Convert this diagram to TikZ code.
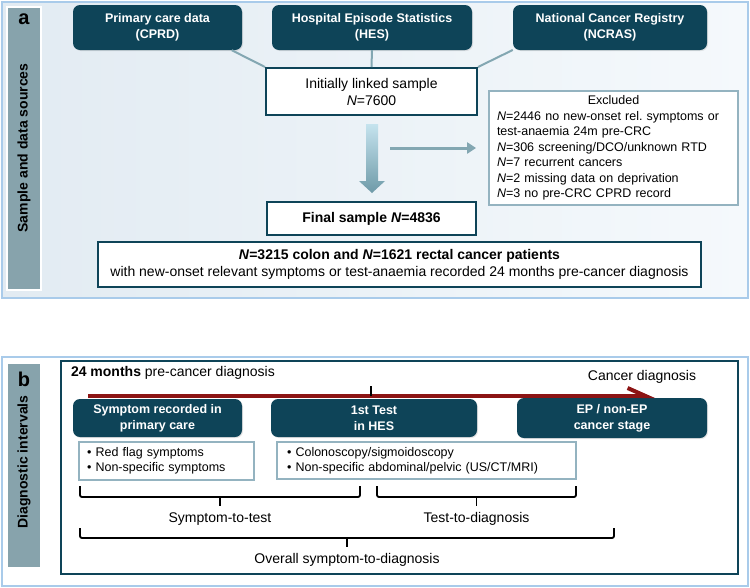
\documentclass[tikz,border=0pt]{standalone}
\usepackage{fontspec}
\setmainfont{Liberation Sans}
\usepackage{xcolor}
\usetikzlibrary{arrows.meta,positioning,calc,shadows}

\definecolor{darkteal}{HTML}{0E4458}
\definecolor{sidegray}{HTML}{87A3AC}
\definecolor{panelblue}{HTML}{A9CBEA}
\definecolor{lightteal}{HTML}{94B3C0}
\definecolor{linkteal}{HTML}{83A7B2}
\definecolor{arrowtop}{HTML}{C5E3EE}
\definecolor{arrowbot}{HTML}{6E9AA8}
\definecolor{timered}{HTML}{8C1414}
\definecolor{bgleft}{HTML}{E2EBF2}
\definecolor{bgright}{HTML}{F5F9FC}

\begin{document}
\begin{tikzpicture}[x=1pt,y=-1pt]
            \tikzstyle{source} = [fill=darkteal, text=white, rounded corners=7pt, align=center, font=\fontsize{12.5}{16}\selectfont\bfseries, drop shadow={opacity=0.2, shadow xshift=1pt, shadow yshift=-1pt}]
            \tikzstyle{sample} = [draw=darkteal, line width=2pt, fill=white, align=center, font=\fontsize{14}{17}\selectfont]
            \tikzstyle{note} = [draw=lightteal, line width=1.8pt, fill=white, align=left, font=\fontsize{12.5}{15.5}\selectfont]
            \tikzstyle{link} = [draw=linkteal, line width=2pt]
            \tikzstyle{brace} = [draw=black, line width=1.8pt, rounded corners=2pt]
            \tikzstyle{side} = [fill=sidegray, draw=white, line width=2pt]
            \tikzstyle{plain} = [font=\fontsize{14}{17}\selectfont]
            \useasboundingbox (0,0) rectangle (750,587);

            % panel a
            \shade[left color=bgleft, right color=bgright] (2,2) rectangle (748,298);
            \draw[panelblue, line width=1.5pt] (2,2) rectangle (748,298);
            \draw[side] (7,7) rectangle (41,290);
            \node [font=\fontsize{20}{20}\selectfont\bfseries] (alabel) at (24,19) {a};
            \node [rotate=90, font=\fontsize{14}{17}\selectfont\bfseries] (atitle) at (24,148) {Sample and data sources};

            \node [source, minimum width=169pt, minimum height=45pt] (cprd) at (157.5,27.5) {Primary care data\\(CPRD)};
            \node [source, minimum width=200pt, minimum height=45pt] (hes) at (372,27.5) {Hospital Episode Statistics\\(HES)};
            \node [source, minimum width=194pt, minimum height=45pt] (ncras) at (610,27.5) {National Cancer Registry\\(NCRAS)};
            \node [sample, minimum width=211pt, minimum height=47pt] (linked) at (371.5,91.5) {Initially linked sample\\\textit{N}=7600};
            \node [sample, minimum width=209pt, minimum height=33pt, below=85pt of linked, font=\fontsize{14}{17}\selectfont\bfseries] (final) {Final sample \textit{N}=4836};
            \node [sample, minimum width=603pt, minimum height=45pt] (cohort) at (399.5,264.5) {{\bfseries\textit{N}=3215 colon and \textit{N}=1621 rectal cancer patients}\\with new-onset relevant symptoms or test-anaemia recorded 24 months pre-cancer diagnosis};
            \node [note, text width=233pt, inner xsep=8pt, minimum height=114pt] (excluded) at (613.5,148) {\makebox[233pt]{Excluded}\\\textit{N}=2446 no new-onset rel.\ symptoms or\\test-anaemia 24m pre-CRC\\\textit{N}=306 screening/DCO/unknown RTD\\\textit{N}=7 recurrent cancers\\\textit{N}=2 missing data on deprivation\\\textit{N}=3 no pre-CRC CPRD record};

            \draw [link] (cprd.-17) -- (linked.north west);
            \draw [link] (hes.south) -- (linked.north);
            \draw [link] (ncras.193) -- (linked.north east);

            \coordinate (drop) at ($(linked.south)+(0.5,8)$);
            \shade[top color=arrowtop, bottom color=arrowbot] (drop) ++(-6,0) -- ++(12,0) -- ++(0,57) -- ++(7,0) -- ++(-13,12) -- ++(-13,-12) -- ++(7,0) -- cycle;
            \coordinate (split) at (390,148);
            \draw [link, line width=3pt, -{Triangle[length=9pt,width=11pt]}] (split) -- ([xshift=-12pt]excluded.west);

            % panel b
            \draw[panelblue, line width=1.5pt, fill=white] (2,357) rectangle (748,586);
            \draw[side] (7,363) rectangle (41,568);
            \node [font=\fontsize{20}{20}\selectfont\bfseries] (blabel) at (24,379) {b};
            \node [rotate=90, font=\fontsize{14}{17}\selectfont\bfseries] (btitle) at (24,462) {Diagnostic intervals};
            \draw[darkteal, line width=2pt] (61,361) rectangle (738,574);

            \node [plain, anchor=west] (window) at (67.5,373) {\textbf{24 months} pre-cancer diagnosis};
            \node [plain] (diagnosis) at (642,377) {Cancer diagnosis};

            \node [source, minimum width=169pt, minimum height=38pt] (symptom) at (157.5,418) {Symptom recorded in\\primary care};
            \node [source, minimum width=206pt, minimum height=38pt] (test) at (374,418) {1st Test\\in HES};
            \node [source, minimum width=190pt, minimum height=40pt] (stage) at (612,418) {EP / non-EP\\cancer stage};

            \node [note, text width=159pt, inner xsep=8pt, minimum height=38pt, font=\fontsize{12.5}{14.5}\selectfont] (redflag) at (166.5,461) {\textbullet\ Red flag symptoms\\\textbullet\ Non-specific symptoms};
            \node [note, text width=279pt, inner xsep=10pt, minimum height=37pt, font=\fontsize{12.5}{15}\selectfont] (imaging) at (426.5,460.5) {\textbullet\ Colonoscopy/sigmoidoscopy\\\textbullet\ Non-specific abdominal/pelvic (US/CT/MRI)};

            \coordinate (t0) at (88,396);
            \coordinate (t1) at (655,396);
            \draw [timered, line width=4pt, -{Straight Barb[harpoon,length=18pt,width=16pt]}] (t0) -- (t1);
            \coordinate (mark) at (371,386);
            \draw [black, line width=1.5pt] (mark) -- (mark |- t0);

            \foreach \xa/\xb/\yt/\yb/\lab/\nm in {80/360/486/497/Symptom-to-test/stt, 377/576/486/497/Test-to-diagnosis/ttd, 80/614/528/538/Overall symptom-to-diagnosis/osd}{
              \draw [brace] (\xa,\yt) -- (\xa,\yb) -- (\xb,\yb) -- (\xb,\yt);
              \draw [brace] ({(\xa+\xb)/2},\yb) -- ++(0,9);
              \node [plain] (\nm) at ({(\xa+\xb)/2},\yb+22) {\lab};
            }
\end{tikzpicture}
\end{document}
